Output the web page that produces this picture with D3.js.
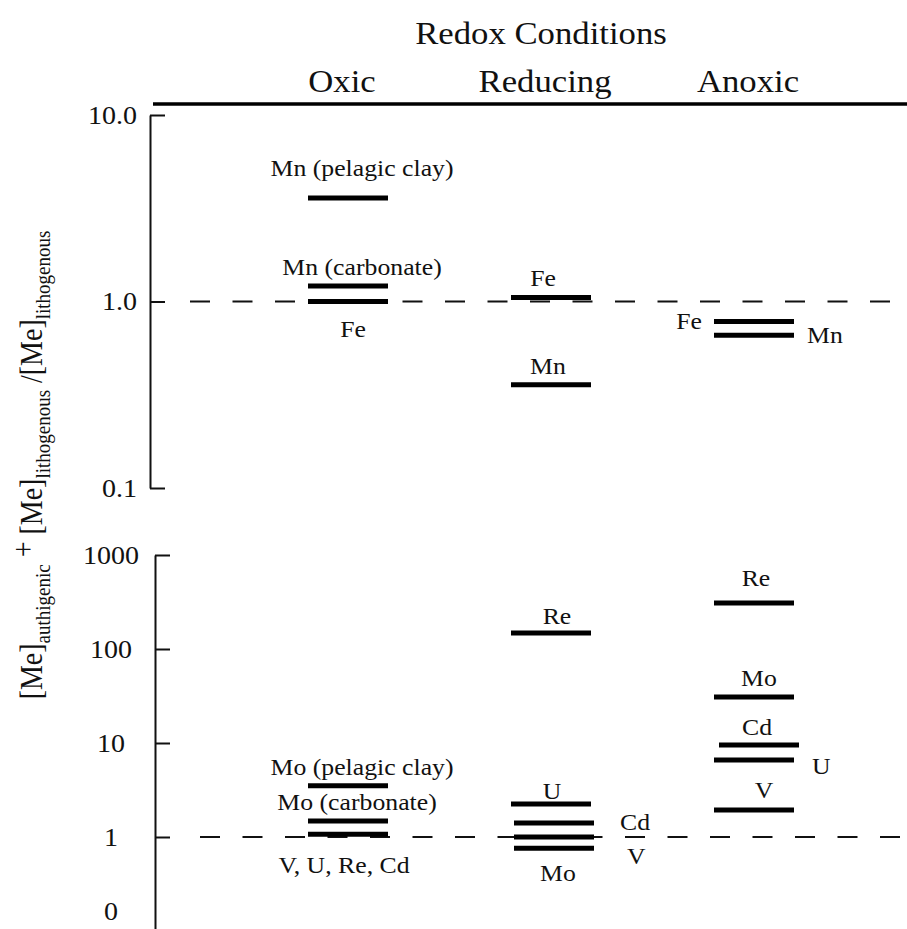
<!DOCTYPE html>
<html>
<head>
<meta charset="utf-8">
<script src="https://cdn.jsdelivr.net/npm/d3@7"></script>
<style>
  body { margin: 0; background: #fff; }
  svg { display: block; }
  text { font-family: "Liberation Serif", "DejaVu Serif", serif; fill: #111; }
</style>
</head>
<body>
<svg></svg>
<script>
// Chart size
const width = 907, height = 929;

// Redox columns
const conditions = ["Oxic", "Reducing", "Anoxic"];

// Upper panel (Mn, Fe)
const topNames  = ["Mn (pelagic clay)", "Mn (carbonate)", "Fe", "Fe", "Mn", "Fe", "Mn"];
const topConds  = ["Oxic", "Oxic", "Oxic", "Reducing", "Reducing", "Anoxic", "Anoxic"];
const topValues = [3.59, 1.21, 1.0, 1.05, 0.358, 0.78, 0.66];
const topSides  = ["above", "above", "below", "above", "above", "left", "right"];
const topTicks  = [10, 1, 0.1];
const topTickLabels = ["10.0", "1.0", "0.1"];

// Lower panel (trace metals)
const botNames  = ["Mo (pelagic clay)", "Mo (carbonate)", "V, U, Re, Cd",
                   "Re", "U", "Cd", "V", "Mo",
                   "Re", "Mo", "Cd", "U", "V"];
const botConds  = ["Oxic", "Oxic", "Oxic",
                   "Reducing", "Reducing", "Reducing", "Reducing", "Reducing",
                   "Anoxic", "Anoxic", "Anoxic", "Anoxic", "Anoxic"];
const botValues = [3.5, 1.48, 1.07,
                   148, 2.24, 1.41, 1.0, 0.76,
                   308, 30.8, 9.5, 6.6, 1.94];
const botSides  = ["above", "above", "below",
                   "above", "above", "right", "right", "below",
                   "above", "above", "above", "right", "above"];
const botTicks  = [1000, 100, 10, 1, 0.16];
const botTickLabels = ["1000", "100", "10", "1", "0"];

const refValue = 1;

// layout tweaks (label / bar nudges in px)
const labelNudge = {
  "top|Oxic|Mn (pelagic clay)": [14, -30],
  "top|Oxic|Mn (carbonate)": [14, -18.5],
  "top|Oxic|Fe": [5, 28],
  "top|Reducing|Fe": [-8, -19],
  "top|Reducing|Mn": [-3, -18],
  "bot|Oxic|Mo (pelagic clay)": [14, -18.5],
  "bot|Oxic|Mo (carbonate)": [9, -18.5],
  "bot|Oxic|V, U, Re, Cd": [-4, 31.5],
  "bot|Reducing|Re": [6, -17],
  "bot|Reducing|U": [1, -13],
  "bot|Reducing|Cd": [13, -1],
  "bot|Reducing|V": [20, 19],
  "bot|Reducing|Mo": [7, 25.5],
  "bot|Anoxic|Re": [2, -25],
  "bot|Anoxic|Mo": [5, -19],
  "bot|Anoxic|Cd": [3, -17.5],
  "bot|Anoxic|U": [5, 6],
  "bot|Anoxic|V": [10, -20]
};
const barNudge = {
  "bot|Reducing|Cd": 3, "bot|Reducing|V": 3, "bot|Reducing|Mo": 3,
  "bot|Anoxic|Cd": 5
};

const stretch = 1.12; // glyphs in the reference are a bit wide
const barW = 80;

const svg = d3.select("svg").attr("width", width).attr("height", height);

const x = d3.scalePoint().domain(conditions).range([348, 754]);
const yTop = d3.scaleLog().domain([0.1, 10]).range([488, 115]);
const yBot = d3.scaleLog().domain([0.1, 1000]).range([931, 555]);

function label(g, px, py, s, size, anchor) {
  return g.append("text")
    .attr("transform", `translate(${px},${py}) scale(${stretch},1)`)
    .attr("text-anchor", anchor)
    .attr("dy", "0.33em")
    .style("font-size", size + "px")
    .text(s);
}

// Header
svg.append("text")
  .attr("transform", `translate(541,44) scale(${stretch},1)`)
  .attr("text-anchor", "middle")
  .style("font-size", "31px")
  .text("Redox Conditions");

svg.selectAll(".cond")
  .data(conditions)
  .join("text")
  .attr("class", "cond")
  .attr("transform", d => `translate(${x(d) - 6},92) scale(${stretch},1)`)
  .attr("text-anchor", "middle")
  .style("font-size", "31px")
  .text(d => d);

svg.append("line")
  .attr("x1", 153).attr("x2", width)
  .attr("y1", 104).attr("y2", 104)
  .attr("stroke", "#000").attr("stroke-width", 3.5);

function drawPanel(key, y, axisX, dashStart, names, conds, values, sides, ticks, tickLabels, centered) {
  const g = svg.append("g");

  // reference line at 1
  g.append("line")
    .attr("x1", dashStart).attr("x2", 905)
    .attr("y1", y(refValue)).attr("y2", y(refValue))
    .attr("stroke", "#111").attr("stroke-width", 1.8)
    .attr("stroke-dasharray", "20,22.5");

  // axis
  const axis = d3.axisLeft(y)
    .tickValues(ticks)
    .tickFormat((d, i) => tickLabels[i])
    .tickSizeInner(-15)
    .tickSizeOuter(0)
    .tickPadding(13);
  const ag = g.append("g")
    .attr("transform", `translate(${axisX},0)`)
    .call(axis);
  ag.select(".domain").attr("stroke", "#111").attr("stroke-width", 2);
  ag.selectAll(".tick line").attr("stroke", "#111").attr("stroke-width", 2)
    .attr("display", (d, i) => tickLabels[i] === "0" ? "none" : null);
  ag.selectAll(".tick text")
    .attr("fill", "#111")
    .style("font-family", '"Liberation Serif", serif')
    .style("font-size", "25px")
    .attr("transform", `scale(${stretch},1)`)
    .attr("x", centered ? -44 / stretch : -13 / stretch)
    .attr("text-anchor", centered ? "middle" : "end");

  // bars + labels
  names.forEach((name, i) => {
    const id = `${key}|${conds[i]}|${name}`;
    const cx = x(conds[i]) + (barNudge[id] || 0);
    const cy = y(values[i]);
    g.append("line")
      .attr("x1", cx - barW / 2).attr("x2", cx + barW / 2)
      .attr("y1", cy).attr("y2", cy)
      .attr("stroke", "#000").attr("stroke-width", 5);

    const [dx, dy] = labelNudge[id] || [0, 0];
    const side = sides[i];
    if (side === "above") label(g, x(conds[i]) + dx, cy + (dy || -18), name, 23, "middle");
    if (side === "below") label(g, x(conds[i]) + dx, cy + (dy || 28), name, 23, "middle");
    if (side === "right") label(g, cx + barW / 2 + 13 + dx, cy + dy, name, 23, "start");
    if (side === "left")  label(g, cx - barW / 2 - 12 + dx, cy + dy, name, 23, "end");
  });
}

drawPanel("top", yTop, 150, 190, topNames, topConds, topValues, topSides, topTicks, topTickLabels, false);
drawPanel("bot", yBot, 155, 200, botNames, botConds, botValues, botSides, botTicks, botTickLabels, true);

// Y axis title
const yt = svg.append("text")
  .attr("transform", `translate(42,465) rotate(-90) scale(1,${stretch})`)
  .attr("text-anchor", "middle")
  .style("font-size", "28px");
yt.append("tspan").text("[Me]");
yt.append("tspan").attr("dy", 7).style("font-size", "19px").text("authigenic");
yt.append("tspan").attr("dy", -14).text(" + ");
yt.append("tspan").attr("dy", 7).text("[Me]");
yt.append("tspan").attr("dy", 7).style("font-size", "19px").text("lithogenous");
yt.append("tspan").attr("dy", -7).text(" /");
yt.append("tspan").text("[Me]");
yt.append("tspan").attr("dy", 7).style("font-size", "19px").text("lithogenous");
</script>
</body>
</html>
